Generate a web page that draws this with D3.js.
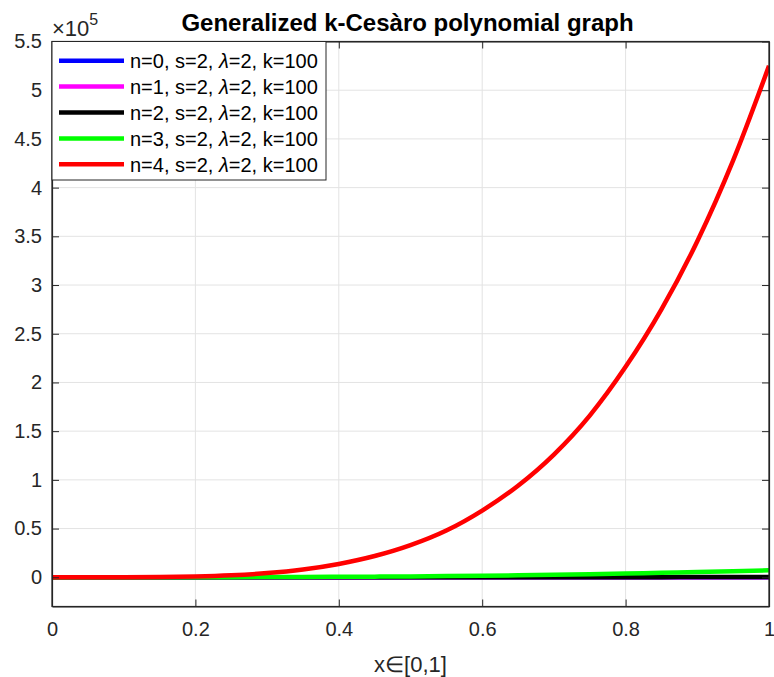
<!DOCTYPE html>
<html><head><meta charset="utf-8">
<script src="https://cdn.jsdelivr.net/npm/d3@7"></script>
<style>body{margin:0;background:#fff}svg{display:block}text{font-family:"Liberation Sans",Arial,sans-serif}</style>
</head><body>
<svg id="c" width="774" height="677"></svg>
<script>
const xs = [0,0.05,0.1,0.15,0.2,0.25,0.3,0.35,0.4,0.45,0.5,0.55,0.6,0.65,0.7,0.75,0.8,0.85,0.9,0.95,1];
const n0 = [0,0,0,0,0,0,0,0,0,0,0,0,0,0,0,0,0,0,0,0,0];
const n1 = [0,0,0,0,0,1,1,2,3,4,5,7,9,11,13,15,18,21,24,27,30];
const n2 = [0,0,0,1,2,4,7,11,16,22,30,40,52,66,82,101,123,148,176,208,240];
const n3 = [0,0,7,20,60,110,200,300,460,660,900,1200,1560,2000,2500,3100,3800,4600,5300,6200,7200];
const n4 = [0,3,50,270,850,2100,4300,8000,13700,21800,33000,48000,68500,94000,126000,166000,216000,275000,345000,428000,525000];
const seriesNames = ["n=0","n=1","n=2","n=3","n=4"];
const seriesColors = ["#0000ff","#ff00ff","#000000","#00ff00","#ff0000"];
const seriesData = [n0,n1,n2,n3,n4];
const xTicks = [0,0.2,0.4,0.6,0.8,1];
const yTicks = [0,50000,100000,150000,200000,250000,300000,350000,400000,450000,500000,550000];
const titleText = "Generalized k-Cesàro polynomial graph";

const svg = d3.select("#c");
const L=52, R=769, T=41.5, B=606.5;
const x = d3.scaleLinear().domain([0,1]).range([L,R]);
const y = d3.scaleLinear().domain([-30000,550000]).range([B,T]);
const axisCol = "#262626";
const fmtY = v => d3.format("~g")(v/1e5);
const fmtX = v => d3.format("~g")(v);

// grid
const g = svg.append("g");
g.selectAll(".gx").data(xTicks).join("line").attr("x1",d=>x(d)).attr("x2",d=>x(d)).attr("y1",T).attr("y2",B).attr("stroke","#e3e3e3").attr("stroke-width",1);
g.selectAll(".gy").data(yTicks).join("line").attr("y1",d=>y(d)).attr("y2",d=>y(d)).attr("x1",L).attr("x2",R).attr("stroke","#e3e3e3").attr("stroke-width",1);

// lines
const line = d3.line().x((d,i)=>x(xs[i])).y(d=>y(d)).curve(d3.curveMonotoneX);
svg.append("defs").append("clipPath").attr("id","clip").append("rect").attr("x",L).attr("y",T).attr("width",R-L).attr("height",B-T);
const lg = svg.append("g").attr("clip-path","url(#clip)");
seriesData.forEach((s,i)=>{
  lg.append("path").attr("d",line(s)).attr("fill","none").attr("stroke",seriesColors[i]).attr("stroke-width",4.5).attr("stroke-linejoin","round");
});

// axes
const tickLen = 7;
const axB = svg.append("g").attr("transform",`translate(0,${B})`).call(d3.axisBottom(x).tickValues(xTicks).tickFormat(fmtX).tickSizeInner(-tickLen).tickSizeOuter(0).tickPadding(15));
const axT = svg.append("g").attr("transform",`translate(0,${T})`).call(d3.axisTop(x).tickValues(xTicks).tickFormat("").tickSizeInner(-tickLen).tickSizeOuter(0));
const axL = svg.append("g").attr("transform",`translate(${L},0)`).call(d3.axisLeft(y).tickValues(yTicks).tickFormat(fmtY).tickSizeInner(-tickLen).tickSizeOuter(0).tickPadding(10));
const axR = svg.append("g").attr("transform",`translate(${R},0)`).call(d3.axisRight(y).tickValues(yTicks).tickFormat("").tickSizeInner(-tickLen).tickSizeOuter(0));
[axB,axT,axL,axR].forEach(a=>{
  a.select(".domain").attr("stroke",axisCol).attr("stroke-width",1.2);
  a.selectAll(".tick line").attr("stroke",axisCol).attr("stroke-width",1);
  a.selectAll("text").attr("fill",axisCol).style("font-size","20px").style("font-family","'Liberation Sans',Arial,sans-serif");
});
axB.selectAll("text").attr("dy","0.71em");
// frame
svg.append("rect").attr("x",L).attr("y",T).attr("width",R-L).attr("height",B-T).attr("fill","none").attr("stroke",axisCol).attr("stroke-width",1.2);

// exponent
const ex = svg.append("text").attr("x",L).attr("y",36).attr("fill",axisCol).style("font-size","22px");
ex.append("tspan").text("×10");
ex.append("tspan").attr("dy",-11).style("font-size","16px").text("5");

// title
svg.append("text").attr("x",(L+R)/2 - 3).attr("y",31).attr("text-anchor","middle").attr("fill","#000").style("font-size","24px").style("font-weight","bold").text(titleText);
// xlabel
svg.append("text").attr("x",(L+R)/2).attr("y",672).attr("text-anchor","middle").attr("fill",axisCol).style("font-size","22px").text("x∈[0,1]");

// legend
const lgX=L, lgY=T, lgW=274, lgH=138.5;
const leg = svg.append("g");
leg.append("rect").attr("x",lgX).attr("y",lgY).attr("width",lgW).attr("height",lgH).attr("fill","#fff").attr("stroke",axisCol).attr("stroke-width",1);
seriesNames.forEach((nm,i)=>{
  const cy = 60.7 + i*25.9;
  leg.append("line").attr("x1",59).attr("x2",124).attr("y1",cy).attr("y2",cy).attr("stroke",seriesColors[i]).attr("stroke-width",4.5);
  const t = leg.append("text").attr("x",130).attr("y",cy).attr("dy","0.36em").attr("fill","#000").style("font-size","20px");
  t.append("tspan").text(nm+", s=2, ");
  t.append("tspan").style("font-style","italic").text("λ");
  t.append("tspan").text("=2, k=100");
});
</script>
</body></html>
